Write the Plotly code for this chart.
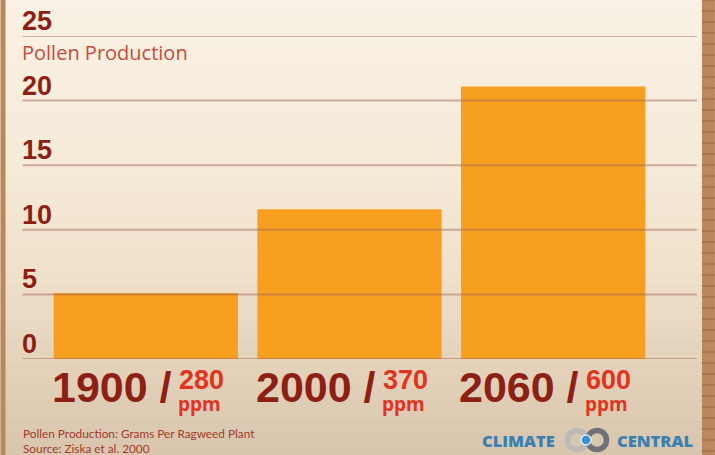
import plotly.graph_objects as go

# ---- data ----
years = ["1900", "2000", "2060"]
co2_ppm = ["280", "370", "600"]
pollen = [5.1, 11.6, 21.1]
y_ticks = [0, 5, 10, 15, 20, 25]
y_title = "Pollen Production"
footnote_1 = "Pollen Production: Grams Per Ragweed Plant"
footnote_2 = "Source: Ziska et al. 2000"

# ---- layout geometry (pixels) ----
W, H = 715, 455
L, R, T, B = 43.5, 60, 36, 96
PW, PH = W - L - R, H - T - B


def px2x(px):
    return (px - L) / PW


def px2y(py):
    return (H - B - py) / PH


BOLD = "Liberation Sans, Arial, sans-serif"
DARK_RED = "#8E1F14"
RED = "#E2331F"

fig = go.Figure(
    go.Bar(
        x=years,
        y=pollen,
        marker=dict(color="#F99F20", line=dict(width=0)),
        width=0.905,
        hoverinfo="skip",
    )
)

shapes = []
# background vertical gradient bands
stops = [
    (0.0, (249, 241, 229)),
    (0.35, (246, 235, 217)),
    (0.6, (240, 225, 203)),
    (0.8, (228, 210, 187)),
    (1.0, (216, 197, 173)),
]


def col_at(f):
    for (f0, c0), (f1, c1) in zip(stops[:-1], stops[1:]):
        if f0 <= f <= f1:
            t = (f - f0) / (f1 - f0)
            return tuple(int(round(a + (b - a) * t)) for a, b in zip(c0, c1))
    return stops[-1][1]


n = 40
for i in range(n):
    y0p = H * i / n
    y1p = H * (i + 1) / n + 1
    c = col_at((i + 0.5) / n)
    shapes.append(dict(type="rect", xref="paper", yref="paper",
                       x0=px2x(0), x1=px2x(W), y0=px2y(y1p), y1=px2y(y0p),
                       fillcolor="rgb(%d,%d,%d)" % c, line=dict(width=0), layer="below"))
# wood strips at the edges
for a, b in [(0, 5), (702, W)]:
    shapes.append(dict(type="rect", xref="paper", yref="paper",
                       x0=px2x(a), x1=px2x(b), y0=px2y(H), y1=px2y(0),
                       fillcolor="#BA885C", line=dict(width=0), layer="below"))
for k in range(0, H, 11):
    shapes.append(dict(type="line", xref="paper", yref="paper",
                       x0=px2x(702), x1=px2x(W), y0=px2y(k), y1=px2y(k),
                       line=dict(color="rgba(120,75,40,0.35)", width=1.5), layer="below"))
# gridlines (drawn over the bars)
for v in y_ticks:
    shapes.append(dict(type="line", xref="paper", yref="y",
                       x0=px2x(22), x1=px2x(697), y0=v, y1=v,
                       line=dict(color="rgba(165,105,90,0.5)", width=2), layer="above"))
# Climate Central logo rings
for cx, colr in [(577, "#BDB9B4"), (597, "#707175")]:
    r = 9.5
    shapes.append(dict(type="circle", xref="paper", yref="paper",
                       x0=px2x(cx - r), x1=px2x(cx + r), y0=px2y(440 + r), y1=px2y(440 - r),
                       line=dict(color=colr, width=5.5), fillcolor="rgba(0,0,0,0)", layer="above"))
shapes.append(dict(type="circle", xref="paper", yref="paper",
                   x0=px2x(581), x1=px2x(591), y0=px2y(445), y1=px2y(435),
                   fillcolor="#3B8FD6", line=dict(color="#DCEBF7", width=1.5), layer="above"))

annotations = []
for v in y_ticks:
    annotations.append(dict(x=px2x(20), xref="paper", y=v, yref="y",
                            text=str(v), showarrow=False, xanchor="left", yanchor="bottom",
                            yshift=-1, borderpad=0,
                            font=dict(family=BOLD, size=27, color=DARK_RED, weight="bold")))
annotations.append(dict(x=px2x(20), xref="paper", y=px2y(38), yref="paper",
                        text=y_title, showarrow=False, xanchor="left", yanchor="top",
                        borderpad=0,
                        font=dict(family="Open Sans, Lato, sans-serif", size=20, color="#C84A3C")))

for i, (yr, ppm) in enumerate(zip(years, co2_ppm)):
    annotations.append(dict(x=i, xref="x", y=px2y(362), yref="paper",
                            text=yr + " /", showarrow=False, xanchor="right", yanchor="top",
                            xshift=27, borderpad=0,
                            font=dict(family=BOLD, size=43, color=DARK_RED, weight="bold")))
    annotations.append(dict(x=i, xref="x", y=px2y(364), yref="paper",
                            text=ppm, showarrow=False, xanchor="left", yanchor="top",
                            xshift=32, borderpad=0,
                            font=dict(family=BOLD, size=27, color=RED, weight="bold")))
    annotations.append(dict(x=i, xref="x", y=px2y(390), yref="paper",
                            text="ppm", showarrow=False, xanchor="left", yanchor="top",
                            xshift=31, borderpad=0,
                            font=dict(family="Open Sans, Liberation Sans, sans-serif", size=19,
                                      color=RED, weight="bold")))

annotations.append(dict(x=px2x(20), xref="paper", y=px2y(433), yref="paper",
                        text=footnote_1, showarrow=False, xanchor="left", yanchor="middle",
                        font=dict(family="Lato, sans-serif", size=11.8, color="#A3392B")))
annotations.append(dict(x=px2x(20), xref="paper", y=px2y(448), yref="paper",
                        text=footnote_2, showarrow=False, xanchor="left", yanchor="middle",
                        font=dict(family="Lato, sans-serif", size=11.8, color="#A3392B")))
annotations.append(dict(x=px2x(557), xref="paper", y=px2y(440), yref="paper",
                        text="CLIMATE", showarrow=False, xanchor="right", yanchor="middle",
                        font=dict(family="Open Sans, sans-serif", size=16.5, color="#3A7FB2", weight=800)))
annotations.append(dict(x=px2x(615), xref="paper", y=px2y(440), yref="paper",
                        text="CENTRAL", showarrow=False, xanchor="left", yanchor="middle",
                        font=dict(family="Open Sans, sans-serif", size=16.5, color="#3A7FB2", weight=800)))

fig.update_layout(
    width=W, height=H,
    margin=dict(l=L, r=R, t=T, b=B, pad=0),
    paper_bgcolor="#F3E7D5",
    plot_bgcolor="rgba(0,0,0,0)",
    showlegend=False,
    bargap=0.095,
    xaxis=dict(type="category", range=[-0.5, len(years) - 0.5], autorange=False,
               showticklabels=False, showgrid=False, zeroline=False,
               showline=False, ticks="", fixedrange=True),
    yaxis=dict(range=[0, 25], autorange=False, showticklabels=False, showgrid=False,
               zeroline=False, showline=False, ticks="", fixedrange=True),
    shapes=shapes,
    annotations=annotations,
)

fig.write_html(
    "out.html",
    config={"displayModeBar": False},
    post_script="document.body.style.margin='0';document.body.style.padding='0';"
                "document.body.style.overflow='hidden';",
)
